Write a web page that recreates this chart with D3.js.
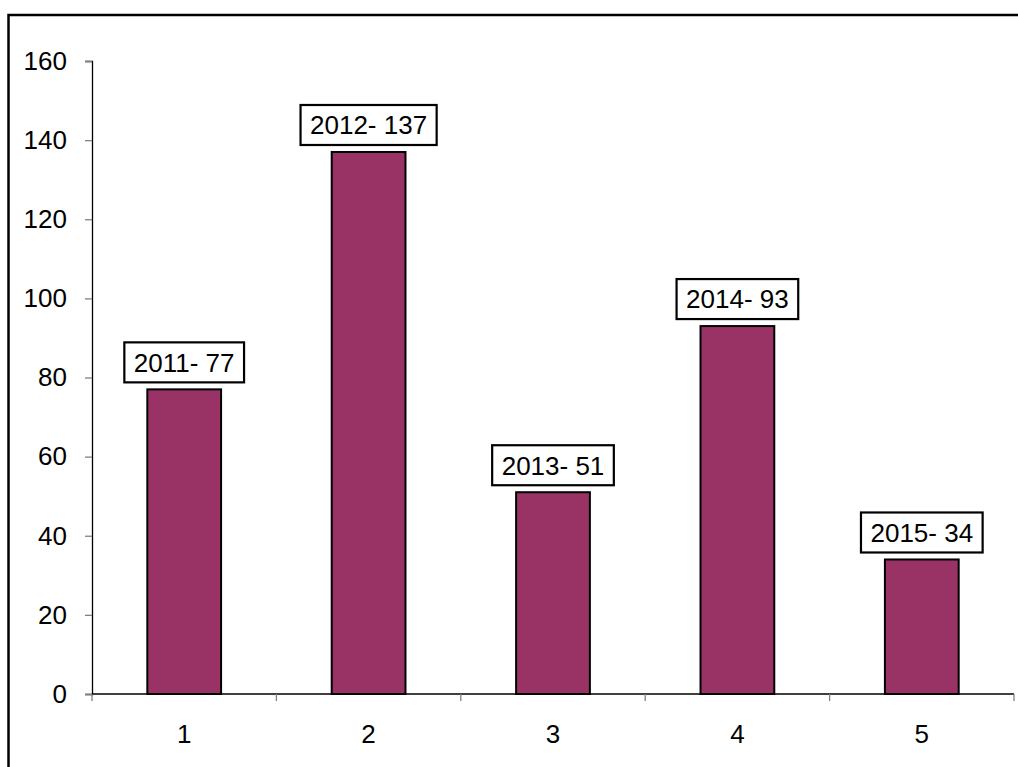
<!DOCTYPE html>
<html>
<head>
<meta charset="utf-8">
<script src="https://cdn.jsdelivr.net/npm/d3@7"></script>
<style>
  html, body { margin: 0; padding: 0; background: #fff; }
  svg { display: block; }
  text { font-family: "Liberation Sans", Arial, sans-serif; fill: #000; }
</style>
</head>
<body>
<svg id="chart" width="1018" height="767"></svg>
<script>
// Reports per year
const categories = ["1", "2", "3", "4", "5"];
const years = ["2011", "2012", "2013", "2014", "2015"];
const values = [77, 137, 51, 93, 34];
const yTicks = [0, 20, 40, 60, 80, 100, 120, 140, 160];

const svg = d3.select("#chart");
const W = 1018, H = 767;
const plot = { left: 92, right: 1014, top: 61, bottom: 694 };
const FS = 26;

// Outer chart frame (runs off the right and bottom edges)
svg.append("rect")
  .attr("x", 8.5).attr("y", 15)
  .attr("width", W + 20).attr("height", H + 20)
  .attr("fill", "none")
  .attr("stroke", "#000")
  .attr("stroke-width", 2.5);

const x = d3.scaleBand()
  .domain(categories)
  .range([plot.left, plot.right])
  .paddingInner(0)
  .paddingOuter(0);

const y = d3.scaleLinear()
  .domain([0, 160])
  .range([plot.bottom, plot.top]);

// Y axis
const yAxis = svg.append("g")
  .attr("transform", `translate(${plot.left},0)`)
  .call(d3.axisLeft(y).tickValues(yTicks).tickSize(7).tickPadding(18));
yAxis.select(".domain").attr("stroke", "#000").attr("stroke-width", 1.3);
yAxis.selectAll(".tick line").attr("stroke", "#808080").attr("stroke-width", 1.3);
yAxis.selectAll(".tick text")
  .attr("font-size", FS)
  .attr("font-family", "Liberation Sans, Arial, sans-serif")
  .attr("fill", "#000");

// X axis: ticks sit between categories
const xAxisG = svg.append("g");
xAxisG.append("line")
  .attr("x1", plot.left).attr("x2", plot.right)
  .attr("y1", plot.bottom).attr("y2", plot.bottom)
  .attr("stroke", "#000").attr("stroke-width", 1.3);
const boundaries = categories.map(c => x(c)).concat([x(categories[categories.length - 1]) + x.bandwidth()]);
xAxisG.selectAll(".xtick")
  .data(boundaries)
  .join("line")
  .attr("x1", d => d).attr("x2", d => d)
  .attr("y1", plot.bottom).attr("y2", plot.bottom + 7)
  .attr("stroke", "#808080").attr("stroke-width", 1.3);
xAxisG.selectAll(".xlabel")
  .data(categories)
  .join("text")
  .attr("x", d => x(d) + x.bandwidth() / 2)
  .attr("y", 743)
  .attr("text-anchor", "middle")
  .attr("font-size", FS)
  .text(d => d);

// Bars
const barW = x.bandwidth() * 0.4;
svg.selectAll(".bar")
  .data(values)
  .join("rect")
  .attr("x", (d, i) => x(categories[i]) + x.bandwidth() / 2 - barW / 2)
  .attr("y", d => y(d))
  .attr("width", barW)
  .attr("height", d => y(0) - y(d))
  .attr("fill", "#993366")
  .attr("stroke", "#000")
  .attr("stroke-width", 2);

// Value labels in boxes above bars
const labels = svg.selectAll(".lbl")
  .data(values)
  .join("g");
labels.each(function (d, i) {
  const g = d3.select(this);
  const cx = x(categories[i]) + x.bandwidth() / 2;
  const boxH = 40;
  const boxBottom = y(d) - 7;
  const boxTop = boxBottom - boxH;
  const t = g.append("text")
    .attr("x", cx)
    .attr("y", boxTop + boxH / 2 + FS * 0.36)
    .attr("text-anchor", "middle")
    .attr("font-size", FS)
    .text(`${years[i]}- ${d}`);
  const tw = t.node().getComputedTextLength();
  const bw = tw + 19;
  g.insert("rect", "text")
    .attr("x", cx - bw / 2)
    .attr("y", boxTop)
    .attr("width", bw)
    .attr("height", boxH)
    .attr("fill", "#fff")
    .attr("stroke", "#000")
    .attr("stroke-width", 2.2);
});
</script>
</body>
</html>
